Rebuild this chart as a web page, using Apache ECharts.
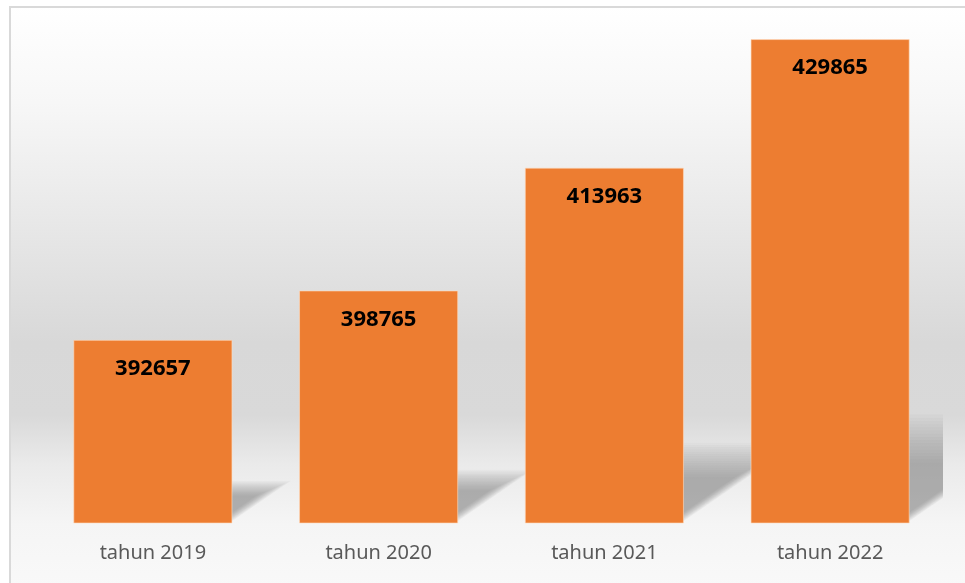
<!DOCTYPE html>
<html>
<head>
<meta charset="utf-8">
<script src="https://cdn.jsdelivr.net/npm/echarts@6/dist/echarts.min.js"></script>
<style>
  html, body { margin: 0; padding: 0; background: #fff; }
  #main { width: 965px; height: 583px; }
</style>
</head>
<body>
<div id="main"></div>
<script>
var years = ['tahun 2019', 'tahun 2020', 'tahun 2021', 'tahun 2022'];
var jumlah = [392657, 398765, 413963, 429865];
var yMin = 370000;
var yMax = 430000;

var barRatio = 0.705;

// soft floor shadow behind each bar, stacked translucent layers
function renderShadow(params, api) {
    var i = api.value(0);
    var v = api.value(1);
    var base = api.coord([i, yMin]);
    var top = api.coord([i, v]);
    var bw = api.size([1, 0])[0] * barRatio;
    var h = base[1] - top[1];
    var x0 = base[0] - bw / 2;
    var x1 = base[0] + bw / 2;
    var layers = [];
    var n = 16;
    for (var k = 0; k < n; k++) {
        var s = 0.5 + k * 0.5 / (n - 1);
        var off = (n - 1 - k) * 0.35;
        var B = base[1] - 2 - off;
        var dx = h * 0.32 * s, dy = h * 0.22 * s;
        layers.push({
            type: 'polygon',
            shape: { points: [[x0, B], [x1 - off, B], [x1 - off + dx, B - dy], [x0 + dx, B - dy]] },
            style: { fill: 'rgba(110,110,110,0.045)' }
        });
    }
    return { type: 'group', children: layers };
}

var option = {
    backgroundColor: '#ffffff',
    animation: false,
    graphic: [{
        type: 'rect',
        z: 0,
        shape: { x: 10, y: 7, width: 980, height: 600 },
        style: {
            fill: new echarts.graphic.LinearGradient(0, 0, 0, 1, [
                { offset: 0, color: '#ffffff' },
                { offset: 0.16, color: '#f7f7f7' },
                { offset: 0.41, color: '#e4e4e4' },
                { offset: 0.56, color: '#d8d8d8' },
                { offset: 0.68, color: '#d9d9d9' },
                { offset: 0.76, color: '#eaeaea' },
                { offset: 0.86, color: '#f5f5f5' },
                { offset: 1, color: '#fafafa' }
            ]),
            stroke: '#d9d9d9',
            lineWidth: 2
        }
    }],
    grid: { left: 40, right: 22, top: 38, bottom: 60 },
    xAxis: {
        type: 'category',
        data: years,
        axisLine: { show: false },
        axisTick: { show: false },
        axisLabel: {
            color: '#595959',
            fontSize: 20,
            fontFamily: 'Noto Sans',
            margin: 20
        }
    },
    yAxis: {
        type: 'value',
        min: yMin,
        max: yMax,
        show: false,
        splitLine: { show: false }
    },
    series: [
        {
            type: 'custom',
            renderItem: renderShadow,
            clip: true,
            z: 1,
            silent: true,
            data: jumlah.map(function (v, i) { return [i, v]; })
        },
        {
            type: 'bar',
            data: jumlah,
            z: 3,
            barWidth: (barRatio * 100) + '%',
            itemStyle: {
                color: '#ED7D31',
                borderColor: 'rgba(255,220,190,0.6)',
                borderWidth: 1
            },
            label: {
                show: true,
                position: 'insideTop',
                distance: 18,
                color: '#000',
                fontSize: 22,
                fontWeight: 'bold',
                fontFamily: 'Noto Sans'
            }
        }
    ]
};

var myChart = echarts.init(document.getElementById('main'));
myChart.setOption(option);
</script>
</body>
</html>
